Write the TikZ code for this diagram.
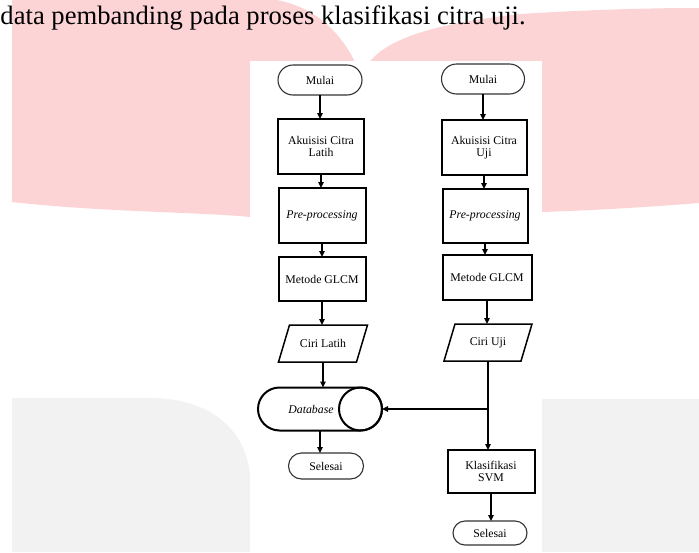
\documentclass[tikz,border=0pt]{standalone}
\usepackage{fontspec}
\setmainfont{Liberation Serif}
\usetikzlibrary{arrows.meta,calc}
\definecolor{wmpink}{RGB}{253,212,214}
\definecolor{wmgray}{RGB}{242,242,242}
\begin{document}
\begin{tikzpicture}[x=1pt,y=-1pt,
  every node/.style={inner sep=0pt,outer sep=0pt,font=\fontsize{11.8}{12.5}\selectfont,align=center},
  term/.style={draw=black!80,line width=1.1pt,rounded corners=#1},
  term/.default=13pt,
  proc/.style={draw=black,line width=2pt},
  iobox/.style={},
  ioline/.style={draw=black,line width=1.5pt,line join=miter},
  dbshape/.style={draw=black,line width=2pt,rounded corners=21.5pt},
  arr/.style={draw=black,line width=1.8pt,-{Triangle[length=6pt,width=5.5pt]}}
]
\useasboundingbox (0,0) rectangle (699,552);
\fill[white] (0,0) rectangle (699,552);
% watermark
\fill[wmpink] (12,0) -- (277,0) .. controls (318,8) and (342,35) .. (356,64) -- (368,64)
  .. controls (385,40) and (430,24) .. (520,14) .. controls (600,9) and (660,8) .. (699,8)
  -- (699,203) .. controls (650,207) and (600,210) .. (542,212) -- (250,217)
  .. controls (200,212) and (100,212) .. (12,202) -- cycle;
\fill[wmgray] (12,552) -- (12,398) -- (150,398) .. controls (205,398) and (245,425) .. (250,475) -- (250,552) -- cycle;
\fill[wmgray] (542,399) -- (699,399) -- (699,552) -- (542,552) -- cycle;
\fill[white] (250,61) rectangle (542,552);
% caption line
\node[anchor=base west,font=\fontsize{26.6}{30}\selectfont] (cap) at (0.5,24) {data pembanding pada proses klasifikasi citra uji.};
% left column
\node[term=15pt,minimum width=84,minimum height=30] (m1) at (320,80) {Mulai};
\node[proc,minimum width=86,minimum height=55] (a1) at (321,146.5) {Akuisisi Citra\\Latih};
\node[proc,minimum width=87,minimum height=55] (p1) at (322,215.5) {\textit{Pre-processing}};
\node[proc,minimum width=87,minimum height=44] (g1) at (322,279) {Metode GLCM};
\node[iobox,minimum width=78,minimum height=37] (c1) at (323,343.5) {Ciri Latih};
\node[dbshape,minimum width=124,minimum height=43] (db) at (320,409) {\textit{Database}\hspace*{18pt}};
\node[term=13pt,minimum width=75,minimum height=26] (s1) at (326,466) {Selesai};
% right column
\node[term=15pt,minimum width=83,minimum height=30] (m2) at (483,79) {Mulai};
\node[proc,minimum width=85,minimum height=55] (a2) at (484,147.5) {Akuisisi Citra\\Uji};
\node[proc,minimum width=85,minimum height=54] (p2) at (485,216) {\textit{Pre-processing}};
\node[proc,minimum width=89,minimum height=45] (g2) at (487,277.5) {Metode GLCM};
\node[iobox,minimum width=77,minimum height=37] (c2) at (488,342.5) {Ciri Uji};
\node[proc,minimum width=87,minimum height=43] (k) at (491,471.5) {Klasifikasi\\SVM};
\node[term=12pt,minimum width=74,minimum height=24] (s2) at (490,533) {Selesai};
% parallelograms and database end
\draw[ioline] ([xshift=5.5pt]c1.north west) -- ([xshift=5.5pt]c1.north east) -- ([xshift=-5.5pt]c1.south east) -- ([xshift=-5.5pt]c1.south west) -- cycle;
\draw[ioline] ([xshift=5.5pt]c2.north west) -- ([xshift=5.5pt]c2.north east) -- ([xshift=-5.5pt]c2.south east) -- ([xshift=-5.5pt]c2.south west) -- cycle;
\draw[line width=2pt] ([xshift=-21.5pt]db.east) circle[radius=21.5pt];
% connectors
\draw[arr] (m1.south) -- (m1.south |- a1.north);
\draw[arr] (a1.south) -- (a1.south |- p1.north);
\draw[arr] (p1.south) -- (p1.south |- g1.north);
\draw[arr] (g1.south) -- (g1.south |- c1.north);
\draw[arr] (c1.south) -- (c1.south |- db.north);
\draw[arr] (db.south) -- (db.south |- s1.north);
\draw[arr] (m2.south) -- (m2.south |- a2.north);
\draw[arr] (a2.south) -- (a2.south |- p2.north);
\draw[arr] (p2.south) -- (p2.south |- g2.north);
\draw[arr] (g2.south) -- (g2.south |- c2.north);
\draw[arr] (c2.south) -- (c2.south |- k.north);
\coordinate (j) at (c2.south |- db.east);
\draw[arr] (j) -- (db.east);
\draw[arr] (k.south) -- (k.south |- s2.north);
\end{tikzpicture}
\end{document}
